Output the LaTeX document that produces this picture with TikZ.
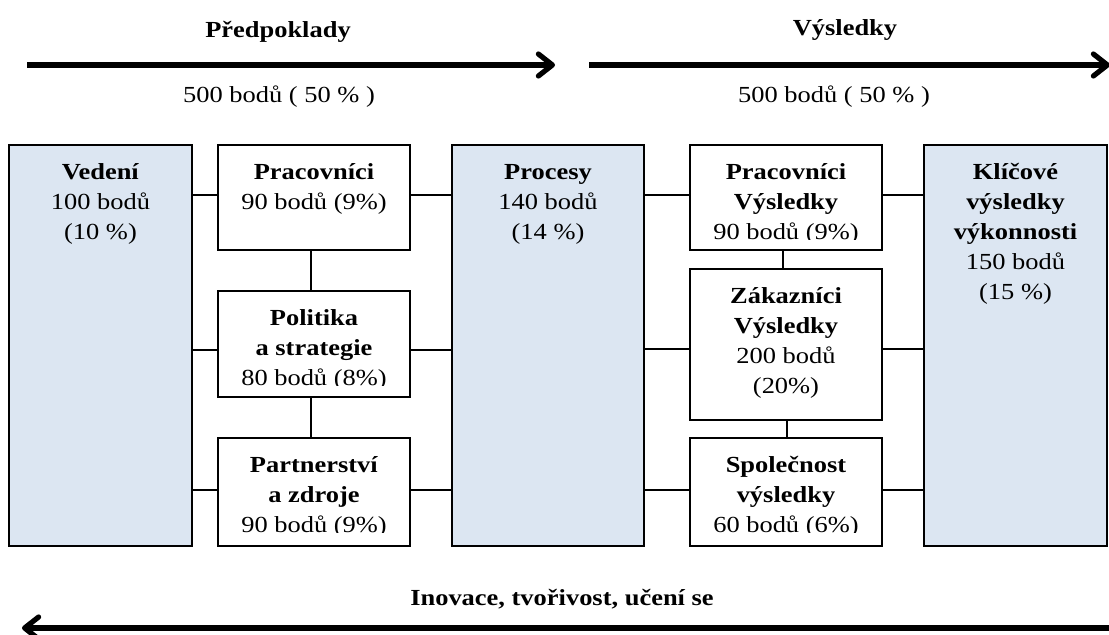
\documentclass[tikz,border=0pt]{standalone}
\usepackage{fontspec}
\setmainfont{Liberation Serif}[FakeStretch=1.15]
\usetikzlibrary{arrows.meta,fit}
\definecolor{panelblue}{HTML}{DCE6F2}
% invisible strut that fixes the height of the first text line
\newcommand\lnstrut{\rule{0pt}{9pt}}
\begin{document}
\begin{tikzpicture}[x=0.5pt,y=-0.5pt,
  every node/.style={font=\fontsize{11.5pt}{15pt}\selectfont},
  frame/.style={draw=black, line width=0.9pt, inner sep=0pt},
  keybox/.style={frame, fill=panelblue},
  subbox/.style={frame, fill=white},
  boxtext/.style={align=center, inner sep=0pt, anchor=north},
  headtext/.style={inner sep=0pt, anchor=base, font=\fontsize{11.5pt}{15pt}\selectfont\bfseries},
  pointstext/.style={inner sep=0pt, anchor=base},
  link/.style={line width=0.9pt},
  flow/.style={line width=2.6pt, -{Straight Barb[length=7pt,width=11pt,round]}},
]
\useasboundingbox (0,0) rectangle (1109,635);

% ---- boxes ----
\node[keybox, fit={(9,145) (192,546)}]   (vedeni) {};
\node[subbox, fit={(218,145) (410,250)}] (prac) {};
\node[subbox, fit={(218,291) (410,397)}] (pol) {};
\node[subbox, fit={(218,438) (410,546)}] (part) {};
\node[keybox, fit={(452,145) (644,546)}] (proc) {};
\node[subbox, fit={(690,145) (882,250)}] (pracv) {};
\node[subbox, fit={(690,269) (882,420)}] (zak) {};
\node[subbox, fit={(690,438) (882,546)}] (spol) {};
\node[keybox, fit={(924,145) (1107,546)}] (klic) {};

% ---- box texts (clipped to the inner text area) ----
\node[boxtext] (vedenit) at ([yshift=-8.5pt]vedeni.north)
  {\lnstrut\textbf{Vedení}\\100 bodů\\(10 \%)};
\node[boxtext] (proct) at ([yshift=-8.5pt]proc.north)
  {\lnstrut\textbf{Procesy}\\140 bodů\\(14 \%)};
\node[boxtext] (klict) at ([yshift=-8.5pt]klic.north)
  {\lnstrut\textbf{Klíčové}\\\textbf{výsledky}\\\textbf{výkonnosti}\\150 bodů\\(15 \%)};

\begin{scope}
  \clip (prac.north west) rectangle ([yshift=5.5pt]prac.south east);
  \node[boxtext] (pract) at ([yshift=-8.5pt]prac.north)
    {\lnstrut\textbf{Pracovníci}\\90 bodů (9\%)};
\end{scope}
\begin{scope}
  \clip (pol.north west) rectangle ([yshift=6pt]pol.south east);
  \node[boxtext] (polt) at ([yshift=-8.5pt]pol.north)
    {\lnstrut\textbf{Politika}\\\textbf{a strategie}\\80 bodů (8\%)};
\end{scope}
\begin{scope}
  \clip (part.north west) rectangle ([yshift=7pt]part.south east);
  \node[boxtext] (partt) at ([yshift=-8.5pt]part.north)
    {\lnstrut\textbf{Partnerství}\\\textbf{a zdroje}\\90 bodů (9\%)};
\end{scope}
\begin{scope}
  \clip (pracv.north west) rectangle ([yshift=5.5pt]pracv.south east);
  \node[boxtext] (pracvt) at ([yshift=-8.5pt]pracv.north)
    {\lnstrut\textbf{Pracovníci}\\\textbf{Výsledky}\\90 bodů (9\%)};
\end{scope}
\begin{scope}
  \clip (zak.north west) rectangle ([yshift=5.5pt]zak.south east);
  \node[boxtext] (zakt) at ([yshift=-8.5pt]zak.north)
    {\lnstrut\textbf{Zákazníci}\\\textbf{Výsledky}\\200 bodů\\(20\%)};
\end{scope}
\begin{scope}
  \clip (spol.north west) rectangle ([yshift=7pt]spol.south east);
  \node[boxtext] (spolt) at ([yshift=-8.5pt]spol.north)
    {\lnstrut\textbf{Společnost}\\\textbf{výsledky}\\60 bodů (6\%)};
\end{scope}

% ---- connectors ----
\coordinate (rowA) at (0,195);
\coordinate (rowB) at (0,350);
\coordinate (rowBr) at (0,349);
\coordinate (rowC) at (0,490);
\coordinate (colL) at (311,0);
\coordinate (colR) at (783,0);
\coordinate (colRb) at (787,0);

\draw[link] (vedeni.east |- rowA) -- (prac.west |- rowA);
\draw[link] (vedeni.east |- rowB) -- (pol.west |- rowB);
\draw[link] (vedeni.east |- rowC) -- (part.west |- rowC);
\draw[link] (prac.east |- rowA) -- (proc.west |- rowA);
\draw[link] (pol.east |- rowB) -- (proc.west |- rowB);
\draw[link] (part.east |- rowC) -- (proc.west |- rowC);
\draw[link] (prac.south -| colL) -- (pol.north -| colL);
\draw[link] (pol.south -| colL) -- (part.north -| colL);

\draw[link] (proc.east |- rowA) -- (pracv.west |- rowA);
\draw[link] (proc.east |- rowBr) -- (zak.west |- rowBr);
\draw[link] (proc.east |- rowC) -- (spol.west |- rowC);
\draw[link] (pracv.east |- rowA) -- (klic.west |- rowA);
\draw[link] (zak.east |- rowBr) -- (klic.west |- rowBr);
\draw[link] (spol.east |- rowC) -- (klic.west |- rowC);
\draw[link] (pracv.south -| colR) -- (zak.north -| colR);
\draw[link] (zak.south -| colRb) -- (spol.north -| colRb);

% ---- flow arrows and their captions ----
\coordinate (pStart) at (27,65);
\coordinate (pEnd) at (555,65);
\coordinate (vStart) at (589,65);
\coordinate (vEnd) at (1110,65);
\coordinate (iStart) at (1112,628);
\coordinate (iEnd) at (22,628);
\draw[flow] (pStart) -- (pEnd);
\draw[flow] (vStart) -- (vEnd);
\draw[flow] (iStart) -- (iEnd);

\node[headtext] (predp) at (278,38) {Předpoklady};
\node[headtext] (vysl) at (845,36) {Výsledky};
\node[pointstext] (predpb) at (279,103) {500 bodů ( 50 \% )};
\node[pointstext] (vyslb) at (834,103) {500 bodů ( 50 \% )};
\node[headtext] (inov) at (562,606) {Inovace, tvořivost, učení se};
\end{tikzpicture}
\end{document}
